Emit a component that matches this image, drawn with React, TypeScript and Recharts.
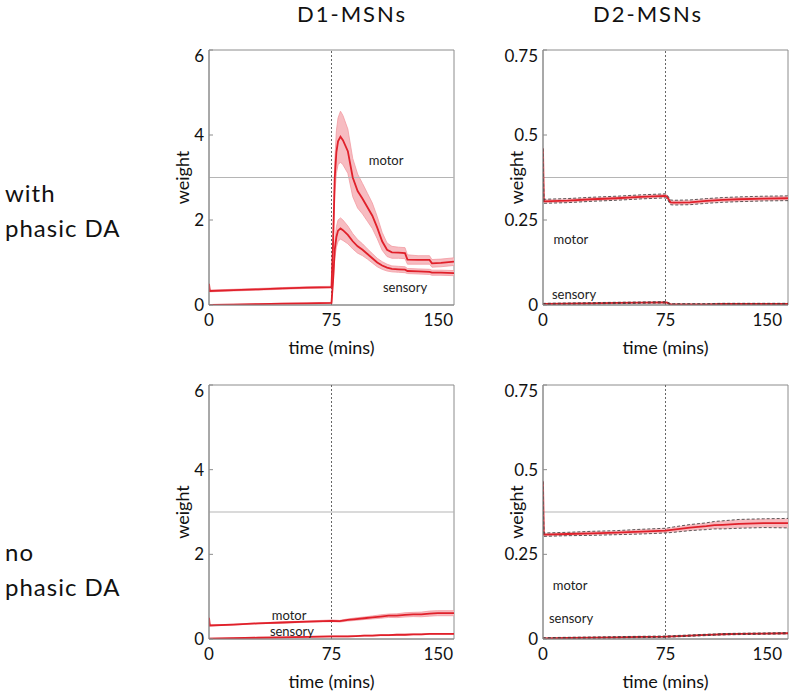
import React from "react";
import {
  ComposedChart,
  Line,
  Area,
  XAxis,
  YAxis,
  ReferenceLine,
  ReferenceArea,
  ReferenceDot,
} from "recharts";

const FONT = "Lato, 'Open Sans', sans-serif";
const RED = "#e0202a";
const BAND = "#f7bcc1";
const BAND_EDGE = "#f29aa2";
const AXIS = "#8c8c8c";

const timeTicks = [0, 75, 150];
const d1Ticks = [0, 2, 4, 6];
const d2Ticks = [0, 0.25, 0.5, 0.75];

// D1-MSNs, with phasic DA
const tD1With = [0, 0.5, 15, 30, 45, 60, 75, 76, 77, 78, 79, 80.5, 82, 85, 88, 91, 94, 97, 100, 103, 106, 109, 112, 116, 120, 121.5, 128, 135, 136.5, 142, 150];
const d1WithMotor = [0.5, 0.33, 0.35, 0.37, 0.39, 0.41, 0.42, 1.5, 3.0, 3.6, 3.85, 3.96, 3.88, 3.62, 3.0, 2.68, 2.5, 2.3, 2.1, 1.82, 1.5, 1.3, 1.24, 1.23, 1.22, 1.07, 1.06, 1.06, 0.98, 0.99, 1.02];
const d1WithMotorErr = [0, 0.02, 0.02, 0.02, 0.02, 0.02, 0.02, 0.2, 0.4, 0.5, 0.55, 0.6, 0.58, 0.52, 0.45, 0.4, 0.36, 0.33, 0.3, 0.26, 0.21, 0.16, 0.14, 0.13, 0.13, 0.11, 0.1, 0.1, 0.09, 0.09, 0.09];
const d1WithSensory = [0, 0, 0.01, 0.02, 0.03, 0.04, 0.05, 0.6, 1.3, 1.6, 1.75, 1.8, 1.76, 1.65, 1.5, 1.38, 1.3, 1.2, 1.1, 1.0, 0.93, 0.88, 0.85, 0.84, 0.83, 0.8, 0.79, 0.78, 0.76, 0.76, 0.75];
const d1WithSensoryErr = [0, 0.01, 0.01, 0.01, 0.01, 0.01, 0.01, 0.1, 0.2, 0.24, 0.25, 0.25, 0.24, 0.21, 0.18, 0.16, 0.14, 0.12, 0.11, 0.1, 0.09, 0.08, 0.07, 0.07, 0.07, 0.06, 0.06, 0.06, 0.06, 0.06, 0.06];

// D2-MSNs, with phasic DA
const tD2With = [0, 0.5, 15, 30, 45, 60, 75, 76, 78, 80, 90, 100, 110, 120, 135, 150];
const d2WithMotor = [0.46, 0.305, 0.307, 0.311, 0.314, 0.318, 0.321, 0.318, 0.302, 0.301, 0.302, 0.306, 0.309, 0.311, 0.313, 0.314];
const d2WithMotorErr = [0, 0.006, 0.006, 0.006, 0.006, 0.006, 0.006, 0.006, 0.007, 0.007, 0.007, 0.007, 0.007, 0.007, 0.007, 0.007];
const d2WithSensory = [0.003, 0.003, 0.004, 0.005, 0.006, 0.007, 0.008, 0.007, 0.002, 0.002, 0.002, 0.002, 0.003, 0.003, 0.003, 0.003];
const d2WithSensoryErr = [0, 0.002, 0.002, 0.002, 0.002, 0.002, 0.002, 0.002, 0.002, 0.002, 0.002, 0.002, 0.002, 0.002, 0.002, 0.002];

// D1-MSNs, no phasic DA
const tD1No = [0, 0.5, 15, 30, 45, 60, 75, 80, 85, 90, 95, 100, 105, 110, 115, 120, 125, 130, 135, 140, 150];
const d1NoMotor = [0.5, 0.32, 0.34, 0.37, 0.39, 0.41, 0.43, 0.42, 0.45, 0.47, 0.49, 0.51, 0.53, 0.55, 0.55, 0.57, 0.58, 0.58, 0.6, 0.61, 0.61];
const d1NoMotorErr = [0, 0.01, 0.01, 0.01, 0.015, 0.015, 0.02, 0.02, 0.025, 0.03, 0.03, 0.035, 0.04, 0.04, 0.045, 0.05, 0.05, 0.055, 0.06, 0.06, 0.06];
const d1NoSensory = [0.01, 0.01, 0.02, 0.03, 0.04, 0.05, 0.06, 0.06, 0.06, 0.07, 0.08, 0.08, 0.09, 0.09, 0.1, 0.1, 0.11, 0.11, 0.12, 0.12, 0.12];
const d1NoSensoryErr = [0, 0.01, 0.01, 0.01, 0.01, 0.01, 0.01, 0.01, 0.01, 0.01, 0.01, 0.01, 0.01, 0.01, 0.01, 0.01, 0.01, 0.01, 0.01, 0.01, 0.01];

// D2-MSNs, no phasic DA
const tD2No = [0, 0.5, 15, 30, 45, 60, 75, 80, 90, 100, 105, 110, 120, 135, 150];
const d2NoMotor = [0.465, 0.308, 0.31, 0.312, 0.314, 0.317, 0.32, 0.323, 0.329, 0.333, 0.336, 0.337, 0.34, 0.342, 0.342];
const d2NoMotorErr = [0, 0.005, 0.005, 0.006, 0.006, 0.007, 0.007, 0.008, 0.009, 0.01, 0.011, 0.012, 0.013, 0.013, 0.014];
const d2NoSensory = [0.002, 0.002, 0.003, 0.004, 0.005, 0.006, 0.007, 0.008, 0.01, 0.012, 0.013, 0.014, 0.015, 0.016, 0.017];
const d2NoSensoryErr = [0, 0.002, 0.002, 0.002, 0.002, 0.002, 0.002, 0.002, 0.002, 0.002, 0.002, 0.002, 0.002, 0.002, 0.002];

function buildRows(t: number[], m: number[], mErr: number[], s: number[], sErr: number[]) {
  return t.map((time, i) => ({
    t: time,
    m: m[i],
    mBand: [m[i] - mErr[i], m[i] + mErr[i]],
    mLo: m[i] - mErr[i],
    mHi: m[i] + mErr[i],
    s: s[i],
    sBand: [s[i] - sErr[i], s[i] + sErr[i]],
    sLo: s[i] - sErr[i],
    sHi: s[i] + sErr[i],
  }));
}

const XTick = (props: any) => {
  const { x, y, payload } = props;
  const v = payload.value;
  const last = v === 150;
  return (
    <text x={last ? x + 1 : x} y={y} dy={17} textAnchor={last ? "end" : "middle"} fontSize={17} fill="#111" fontFamily={FONT}>
      {v}
    </text>
  );
};

const YTick = (props: any) => {
  const { x, y, payload, yMax } = props;
  const v = payload.value;
  const top = v === yMax;
  return (
    <g>
      <line x1={x + 4} x2={x + 8} y1={y} y2={y} stroke={AXIS} />
      <text x={x - 1} y={y} dy={top ? 12 : 6} textAnchor="end" fontSize={17} fill="#111" fontFamily={FONT}>
        {String(v)}
      </text>
    </g>
  );
};

const TextMark = (text: string) => (props: any) => (
  <text x={props.cx} y={props.cy} textAnchor="middle" dominantBaseline="central" fontSize={13} fill="#222" fontFamily={FONT}>
    {text}
  </text>
);

type PanelProps = {
  left: number;
  top: number;
  width: number;
  height: number;
  rows: any[];
  yMax: number;
  yTicks: number[];
  dashed: boolean;
  motorAt: [number, number];
  sensoryAt: [number, number];
};

function Panel({ left, top, width, height, rows, yMax, yTicks, dashed, motorAt, sensoryAt }: PanelProps) {
  const right = width - 60 - 245;
  return (
    <div style={{ position: "absolute", left, top }}>
      <ComposedChart width={width} height={height} data={rows} margin={{ top: 10, right, left: 10, bottom: 0 }}>
        <XAxis
          type="number"
          dataKey="t"
          domain={[0, 150]}
          ticks={timeTicks}
          tick={<XTick />}
          tickSize={4}
          tickMargin={0}
          tickLine={false}
          axisLine={{ stroke: AXIS }}
          height={56}
          allowDataOverflow
          label={{
            content: (p: any) => (
              <text
                x={p.viewBox.x + p.viewBox.width / 2}
                y={p.viewBox.y + 42}
                textAnchor="middle"
                dominantBaseline="central"
                fontSize={18}
                fill="#111"
                fontFamily={FONT}
              >
                time (mins)
              </text>
            ),
          }}
        />
        <YAxis
          type="number"
          domain={[0, yMax]}
          ticks={yTicks}
          tick={<YTick yMax={yMax} />}
          tickSize={4}
          tickMargin={0}
          tickLine={false}
          axisLine={{ stroke: AXIS }}
          width={50}
          allowDataOverflow
          label={{
            content: (p: any) => {
              const cx = p.viewBox.x + 23;
              const cy = p.viewBox.y + p.viewBox.height / 2;
              return (
                <text
                  x={cx}
                  y={cy}
                  transform={`rotate(-90, ${cx}, ${cy})`}
                  textAnchor="middle"
                  dominantBaseline="central"
                  fontSize={18}
                  fill="#111"
                  fontFamily={FONT}
                >
                  weight
                </text>
              );
            },
          }}
        />
        <ReferenceArea x1={0} x2={150} y1={0} y2={yMax} fill="none" stroke={AXIS} />
        <ReferenceLine y={yMax / 2} stroke="#b5b5b5" />
        <ReferenceLine x={75} stroke="#666" strokeDasharray="2 2" />
        <Area dataKey="mBand" type="linear" stroke={dashed ? "none" : BAND_EDGE} strokeWidth={0.8} fill={BAND} fillOpacity={1} isAnimationActive={false} />
        <Area dataKey="sBand" type="linear" stroke={dashed ? "none" : BAND_EDGE} strokeWidth={0.8} fill={BAND} fillOpacity={1} isAnimationActive={false} />
        <Line dataKey="m" type="linear" stroke={RED} strokeWidth={1.8} dot={false} isAnimationActive={false} />
        <Line dataKey="s" type="linear" stroke={RED} strokeWidth={1.8} dot={false} isAnimationActive={false} />
        {dashed && <Line dataKey="mLo" type="linear" stroke="#333" strokeWidth={0.8} strokeDasharray="3 2" dot={false} isAnimationActive={false} />}
        {dashed && <Line dataKey="mHi" type="linear" stroke="#333" strokeWidth={0.8} strokeDasharray="3 2" dot={false} isAnimationActive={false} />}
        {dashed && <Line dataKey="sLo" type="linear" stroke="#333" strokeWidth={0.8} strokeDasharray="3 2" dot={false} isAnimationActive={false} />}
        {dashed && <Line dataKey="sHi" type="linear" stroke="#333" strokeWidth={0.8} strokeDasharray="3 2" dot={false} isAnimationActive={false} />}
        <ReferenceDot x={motorAt[0]} y={motorAt[1]} r={0} shape={TextMark("motor")} />
        <ReferenceDot x={sensoryAt[0]} y={sensoryAt[1]} r={0} shape={TextMark("sensory")} />
      </ComposedChart>
    </div>
  );
}

export default function App() {
  const d1With = buildRows(tD1With, d1WithMotor, d1WithMotorErr, d1WithSensory, d1WithSensoryErr);
  const d2With = buildRows(tD2With, d2WithMotor, d2WithMotorErr, d2WithSensory, d2WithSensoryErr);
  const d1No = buildRows(tD1No, d1NoMotor, d1NoMotorErr, d1NoSensory, d1NoSensoryErr);
  const d2No = buildRows(tD2No, d2NoMotor, d2NoMotorErr, d2NoSensory, d2NoSensoryErr);

  const big = { position: "absolute" as const, fontSize: 24, lineHeight: "28px", letterSpacing: 1, color: "#111", whiteSpace: "nowrap" as const };
  const title = { position: "absolute" as const, top: 0, fontSize: 22, lineHeight: "28px", letterSpacing: 2, color: "#111" };

  return (
    <div style={{ position: "absolute", left: 0, top: 0, width: 797, height: 696, overflow: "hidden", background: "#fff", fontFamily: FONT }}>
      <div style={{ ...title, left: 297 }}>D1-MSNs</div>
      <div style={{ ...title, left: 593 }}>D2-MSNs</div>

      <div style={{ ...big, left: 5, top: 179 }}>with</div>
      <div style={{ ...big, left: 5, top: 214 }}>phasic DA</div>
      <div style={{ ...big, left: 5, top: 538 }}>no</div>
      <div style={{ ...big, left: 5, top: 573 }}>phasic DA</div>

      <Panel left={149} top={40} width={315} height={321} rows={d1With} yMax={6} yTicks={d1Ticks} dashed={false} motorAt={[108.4, 3.41]} sensoryAt={[120, 0.42]} />
      <Panel left={483} top={40} width={310} height={321} rows={d2With} yMax={0.75} yTicks={d2Ticks} dashed={true} motorAt={[17.1, 0.194]} sensoryAt={[19, 0.031]} />
      <Panel left={149} top={375} width={315} height={320} rows={d1No} yMax={6} yTicks={d1Ticks} dashed={false} motorAt={[49, 0.567]} sensoryAt={[50.8, 0.19]} />
      <Panel left={483} top={375} width={310} height={320} rows={d2No} yMax={0.75} yTicks={d2Ticks} dashed={true} motorAt={[16.6, 0.16]} sensoryAt={[17.2, 0.062]} />
    </div>
  );
}
